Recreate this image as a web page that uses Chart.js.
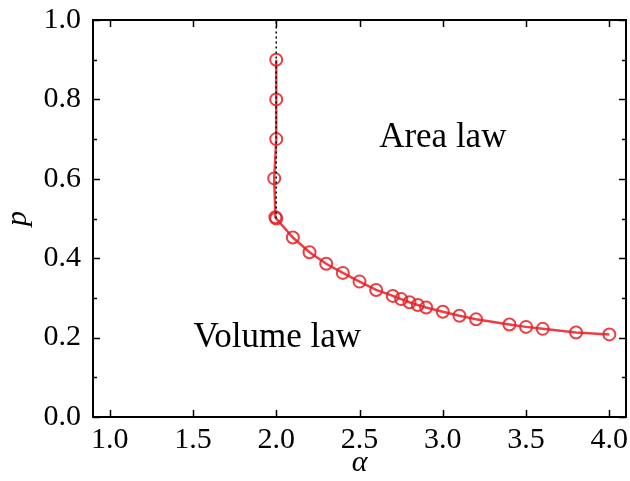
<!DOCTYPE html>
<html>
<head>
<meta charset="utf-8">
<script src="https://cdn.jsdelivr.net/npm/chart.js"></script>
<style>
  html, body { margin: 0; padding: 0; background: #fff; }
  #wrap { width: 630px; height: 481px; }
</style>
</head>
<body>
<div id="wrap"><canvas id="phase"></canvas></div>
<script>
// transition line (alpha, p)
const alphaVals = [2.0, 2.0, 2.0, 1.988, 1.995, 2.0, 2.1, 2.2, 2.3, 2.4, 2.5, 2.6, 2.7, 2.75, 2.8, 2.85, 2.9, 3.0, 3.1, 3.2, 3.4, 3.5, 3.6, 3.8, 4.0];
const pVals =     [0.9, 0.8, 0.7, 0.601, 0.503, 0.5, 0.452, 0.415, 0.386, 0.363, 0.341, 0.320, 0.305, 0.297, 0.289, 0.282, 0.276, 0.265, 0.255, 0.246, 0.233, 0.227, 0.222, 0.213, 0.208];

// dotted guide at alpha = 2
const guideAlpha = [2.0, 2.0];
const guideP = [0.5, 1.0];

const xTicks = [1.0, 1.5, 2.0, 2.5, 3.0, 3.5, 4.0];
const yTicks = [0.0, 0.2, 0.4, 0.6, 0.8, 1.0];
const yMinor = [0.1, 0.3, 0.5, 0.7, 0.9];

const labels = [
  { text: 'Area law', a: 3.0, p: 0.68 },
  { text: 'Volume law', a: 2.006, p: 0.177 }
];

const serif = '"Liberation Serif", "DejaVu Serif", serif';
const red = 'rgba(230, 30, 36, 0.85)';

const framePlugin = {
  id: 'frame',
  afterDatasetsDraw(chart) {
    const ctx = chart.ctx;
    const a = chart.chartArea;
    const xs = chart.scales.x, ys = chart.scales.y;
    ctx.save();
    ctx.strokeStyle = '#000';
    ctx.lineWidth = 1.5;
    ctx.beginPath();
    xTicks.forEach(v => {
      const px = Math.round(xs.getPixelForValue(v)) + 0.5;
      ctx.moveTo(px, a.bottom); ctx.lineTo(px, a.bottom - 7);
      ctx.moveTo(px, a.top); ctx.lineTo(px, a.top + 7);
    });
    yTicks.forEach(v => {
      const py = Math.round(ys.getPixelForValue(v)) + 0.5;
      ctx.moveTo(a.left, py); ctx.lineTo(a.left + 7, py);
      ctx.moveTo(a.right, py); ctx.lineTo(a.right - 7, py);
    });
    yMinor.forEach(v => {
      const py = Math.round(ys.getPixelForValue(v)) + 0.5;
      ctx.moveTo(a.left, py); ctx.lineTo(a.left + 4, py);
      ctx.moveTo(a.right, py); ctx.lineTo(a.right - 4, py);
    });
    ctx.stroke();
    ctx.lineWidth = 2;
    ctx.strokeRect(a.left, a.top, a.right - a.left, a.bottom - a.top);

    ctx.fillStyle = '#000';
    ctx.font = '35px ' + serif;
    ctx.textAlign = 'center';
    ctx.textBaseline = 'alphabetic';
    labels.forEach(l => {
      ctx.fillText(l.text, xs.getPixelForValue(l.a), ys.getPixelForValue(l.p));
    });
    ctx.restore();
  }
};

new Chart(document.getElementById('phase'), {
  type: 'scatter',
  data: {
    datasets: [
      {
        data: guideAlpha.map((a, i) => ({ x: a, y: guideP[i] })),
        showLine: true,
        borderColor: '#000',
        borderWidth: 1.5,
        borderDash: [2, 3],
        pointRadius: 0,
        order: 0
      },
      {
        data: alphaVals.map((a, i) => ({ x: a, y: pVals[i] })),
        showLine: true,
        borderColor: red,
        borderWidth: 2.5,
        pointRadius: 6,
        pointBorderWidth: 2,
        pointBorderColor: red,
        pointBackgroundColor: 'rgba(0,0,0,0)',
        order: 1
      }
    ]
  },
  options: {
    responsive: true,
    maintainAspectRatio: false,
    animation: false,
    layout: { autoPadding: false, padding: { top: 20, right: 4, left: 0, bottom: 0 } },
    plugins: { legend: { display: false }, tooltip: { enabled: false } },
    scales: {
      x: {
        type: 'linear',
        min: 0.9,
        max: 4.1,
        afterBuildTicks: s => { s.ticks = xTicks.map(v => ({ value: v })); },
        afterFit: s => { s.height = 64; s.paddingLeft = 0; s.paddingRight = 0; },
        grid: { display: false, drawTicks: false },
        border: { display: false },
        ticks: {
          color: '#000',
          padding: 5,
          maxRotation: 0,
          font: { family: serif, size: 30 },
          callback: v => Number(v).toFixed(1)
        },
        title: {
          display: true,
          text: 'α',
          color: '#000',
          padding: { top: -8, bottom: 0 },
          font: { family: serif, size: 30, style: 'italic' }
        }
      },
      y: {
        type: 'linear',
        min: 0,
        max: 1,
        afterBuildTicks: s => { s.ticks = yTicks.map(v => ({ value: v })); },
        afterFit: s => { s.width = 93; s.paddingTop = 0; s.paddingBottom = 0; },
        grid: { display: false, drawTicks: false },
        border: { display: false },
        ticks: {
          color: '#000',
          padding: 12,
          font: { family: serif, size: 30 },
          callback: v => Number(v).toFixed(1)
        },
        title: {
          display: true,
          text: 'p',
          color: '#000',
          padding: { top: 0, bottom: 0 },
          font: { family: serif, size: 30, style: 'italic' }
        }
      }
    }
  },
  plugins: [framePlugin]
});
</script>
</body>
</html>
